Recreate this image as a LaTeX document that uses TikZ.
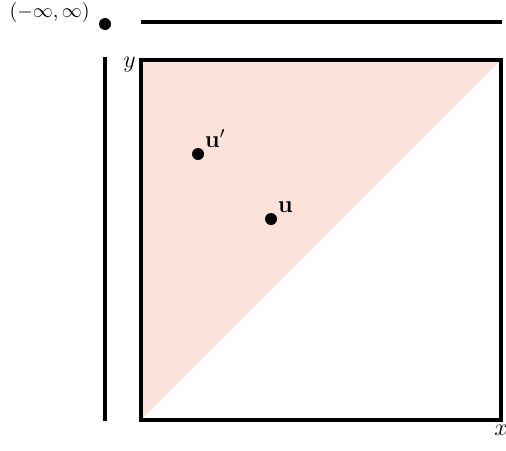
\documentclass[tikz,border=0pt]{standalone}
\usepackage{amsmath,amssymb}
\usetikzlibrary{positioning}
\definecolor{regionfill}{RGB}{252,227,218}

\begin{document}
\begin{tikzpicture}[
    x=0.5pt, y=-0.5pt,
    edge/.style={line width=1.6pt},
    ptdot/.style={circle, fill=black, inner sep=0pt, minimum size=6pt},
    lbl/.style={inner sep=1pt}
  ]
    \useasboundingbox (0,0) rectangle (506,450);

    % Shaded region above the diagonal
    \fill[regionfill] (141,60) -- (501,60) -- (141,420) -- cycle;

    % Square
    \draw[edge] (141,60) rectangle (501,420);

    % Lines at infinity
    \draw[edge] (141,22) -- (502,22);
    \draw[edge] (105,57) -- (105,421);

    % Point at infinity
    \node[ptdot] (inf) at (105,24) {};
    \node[lbl, anchor=south east] (inflbl) at (92,25) {$(-\infty,\infty)$};

    % Axis labels
    \node[lbl, anchor=north east, font=\large] (ylbl) at (138,55) {$y$};
    \node[lbl, anchor=north, font=\large] (xlbl) at (501,423) {$x$};

    % Points
    \node[ptdot] (up) at (198,154) {};
    \node[lbl, above right=0pt of up, font=\large] (uplbl) {$\mathbf{u}'$};
    \node[ptdot] (u) at (271,219) {};
    \node[lbl, above right=0pt of u, font=\large] (ulbl) {$\mathbf{u}$};
\end{tikzpicture}
\end{document}
